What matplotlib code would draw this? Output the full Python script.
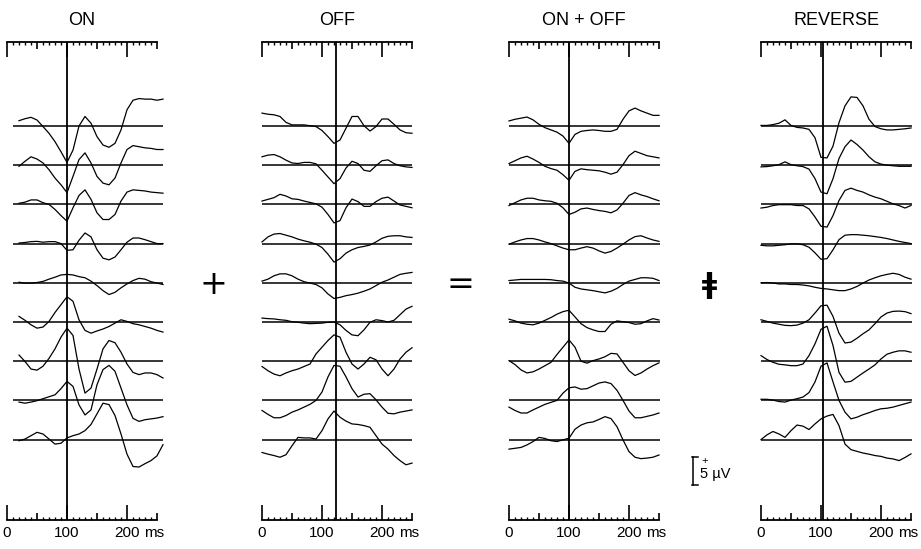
import numpy as np
import matplotlib
matplotlib.use("Agg")
import matplotlib.pyplot as plt

plt.rcParams['font.family'] = ['Liberation Sans', 'DejaVu Sans']

# ---------------- data ----------------
panel_titles = ["ON", "OFF", "ON + OFF", "REVERSE"]
stim_ms = [100, 123, 100, 104]          # time of the vertical stimulus line (ms)
tick_labels = ["0", "", "100", "", "200", ""]
major_ticks_ms = [0, 50, 100, 150, 200, 250]

t_on = [20, 30, 40, 50, 60, 70, 80, 90, 100, 110, 120, 130, 140, 150, 160,
        170, 180, 190, 200, 210, 220, 230, 240, 250, 260]
t_rest = [0, 10, 20, 30, 40, 50, 60, 70, 80, 90, 100, 110, 120, 130, 140, 150,
          160, 170, 180, 190, 200, 210, 220, 230, 240, 250]

# ON responses (µV), top to bottom
on1 = [0.95, 1.3, 1.55, 1.07, -0.1, -1.3, -2.8, -4.6, -6.5, -4.3, 0.0, 1.7, 0.5, -1.9, -3.4, -3.8, -3.1, -0.7, 2.9, 4.6, 4.9, 4.8, 4.8, 4.6, 4.8]
on2 = [-0.2, 0.7, 1.5, 1.1, 0.4, -0.8, -2.3, -3.5, -4.9, -2.0, 1.0, 2.2, 0.4, -2.0, -3.2, -3.5, -2.3, 0.4, 2.8, 3.5, 3.3, 3.1, 3.0, 2.8, 2.8]
on3 = [0.2, 0.4, 0.8, 0.8, 0.3, 0.0, -0.9, -2.0, -3.0, -0.6, 1.6, 2.6, 0.9, -1.5, -2.7, -2.7, -1.8, 0.6, 2.2, 2.6, 2.5, 2.4, 2.2, 2.1, 2.0]
on4 = [0.1, 0.2, 0.35, 0.4, 0.25, 0.35, 0.35, 0.0, -1.2, -1.1, 0.6, 1.9, 1.2, -1.1, -2.6, -2.9, -2.4, -1.1, 0.25, 1.0, 1.0, 0.7, 0.35, 0.0, 0.0]
on5 = [0.1, -0.05, -0.05, 0.05, 0.25, 0.65, 1.0, 1.4, 1.5, 1.4, 1.1, 0.9, 0.3, -0.5, -1.4, -2.1, -1.7, -0.9, -0.2, 0.4, 0.8, 0.65, 0.2, -0.05, -0.3]
on6 = [1.0, 0.3, -0.5, -1.1, -0.9, 0.1, 1.7, 3.1, 4.5, 3.7, 0.4, -1.5, -2.0, -1.6, -1.25, -0.8, -0.2, 0.4, 0.1, -0.3, -0.5, -0.8, -1.1, -1.5, -1.8]
on7 = [1.1, -0.05, -1.4, -1.6, -0.9, 0.5, 2.2, 4.3, 5.9, 4.6, -1.4, -5.7, -4.8, -1.4, 2.2, 3.7, 3.3, 1.6, -0.5, -2.0, -2.4, -2.1, -2.1, -2.4, -3.0]
on8 = [-0.3, -0.5, -0.3, -0.05, 0.3, 0.65, 1.0, 2.1, 3.4, 2.5, -0.8, -2.6, -1.7, 2.8, 5.5, 6.25, 5.2, 2.2, -0.8, -3.2, -3.75, -3.45, -3.3, -3.15, -2.9]
on9 = [-0.2, 0.1, 0.7, 1.3, 1.0, 0.1, -0.8, -0.65, 0.3, 0.7, 1.0, 1.6, 2.7, 4.6, 6.5, 6.25, 4.3, 1.0, -2.6, -4.8, -4.9, -4.3, -3.75, -2.9, -0.9]

# OFF responses
off1 = [2.3, 2.1, 2.0, 1.7, 0.65, 0.2, 0.2, 0.2, 0.05, -0.1, -0.8, -1.9, -3.1, -2.5, -0.4, 1.7, 1.7, 0.05, -0.9, -0.1, 1.25, 1.25, 0.3, -0.7, -1.2, -1.3]
off2 = [1.5, 1.8, 1.9, 1.5, 0.9, 0.4, 0.3, 0.5, 0.5, 0.25, -0.9, -2.1, -3.3, -2.4, -0.5, 0.7, 0.3, -0.9, -1.1, -0.1, 0.8, 0.95, 0.3, -0.1, -0.3, -0.4]
off3 = [0.6, 0.9, 1.2, 1.8, 1.5, 1.0, 0.9, 0.6, 0.35, 0.1, -0.5, -1.8, -3.3, -2.9, -0.6, 0.95, 0.5, -0.35, -0.35, 0.5, 1.1, 1.3, 0.6, -0.1, -0.35, -0.6]
off4 = [0.3, 1.2, 1.7, 1.8, 1.5, 1.2, 0.8, 0.5, 0.25, -0.1, -0.7, -1.9, -3.3, -2.7, -1.7, -1.1, -0.7, -0.5, -0.25, 0.3, 0.95, 1.3, 1.4, 1.4, 1.2, 1.1]
off5 = [0.3, 0.65, 1.25, 1.6, 1.6, 1.25, 0.65, 0.2, -0.05, -0.3, -0.9, -2.0, -2.8, -2.6, -2.3, -2.1, -1.85, -1.5, -1.1, -0.5, 0.1, 0.5, 1.0, 1.5, 1.7, 1.85]
off6 = [0.7, 0.6, 0.55, 0.4, 0.3, 0.05, -0.05, -0.2, -0.3, -0.25, -0.2, -0.05, 0.0, -0.5, -1.5, -2.3, -2.45, -1.4, -0.05, 0.4, 0.25, 0.0, 0.3, 1.3, 2.3, 2.8]
off7 = [-0.95, -1.7, -2.3, -2.6, -2.1, -1.7, -1.4, -0.95, -0.5, 1.3, 2.5, 3.7, 4.7, 4.3, 1.6, -0.5, -1.4, -0.5, 0.7, 0.25, -1.4, -2.6, -1.4, 0.4, 1.6, 2.4]
off8 = [-1.8, -2.5, -3.1, -3.1, -2.7, -2.1, -1.7, -1.2, -0.7, 0.0, 1.5, 4.2, 6.25, 6.1, 4.2, 2.1, 0.6, 1.1, 1.2, 0.1, -1.2, -2.3, -2.4, -2.1, -1.9, -1.7]
off9 = [-2.3, -2.6, -2.85, -3.15, -2.7, -1.1, 0.4, 0.3, 0.3, 0.1, 1.6, 3.7, 5.1, 4.0, 3.3, 2.8, 2.7, 2.5, 2.2, 0.7, -0.8, -1.7, -2.85, -3.75, -4.5, -4.2]

# ON+OFF sums
onoff1 = [0.9, 1.2, 1.4, 1.6, 1.1, 0.3, -0.3, -0.7, -1.1, -1.8, -3.1, -1.5, -0.95, -0.8, -0.7, -0.8, -0.95, -0.95, -0.6, 1.2, 2.7, 3.2, 2.7, 2.3, 1.9, 1.9]
onoff2 = [0.3, 0.8, 1.3, 1.6, 1.1, 0.5, -0.2, -0.6, -0.9, -1.7, -2.7, -1.1, -0.65, -0.8, -0.9, -1.0, -1.25, -1.6, -1.25, 0.1, 1.7, 2.5, 2.1, 1.7, 1.5, 1.3]
onoff3 = [-0.2, 0.3, 0.8, 1.1, 1.1, 0.8, 0.65, 0.55, 0.2, -0.6, -1.8, -1.4, -0.8, -0.65, -0.9, -1.1, -1.25, -1.5, -1.0, 0.2, 1.6, 2.1, 1.7, 1.4, 1.0, 0.65]
onoff4 = [-0.1, 0.3, 0.65, 0.9, 0.9, 0.65, 0.3, 0.0, -0.4, -0.8, -1.1, -1.1, -0.8, -0.55, -0.8, -1.3, -1.7, -1.4, -0.8, -0.1, 0.65, 1.25, 1.4, 1.0, 0.65, 0.4]
onoff5 = [0.4, 0.5, 0.6, 0.6, 0.6, 0.6, 0.6, 0.55, 0.4, 0.3, -0.05, -0.8, -1.1, -1.25, -1.4, -1.6, -1.8, -1.5, -1.0, -0.3, 0.3, 0.6, 0.9, 0.9, 0.8, 0.4]
onoff6 = [0.5, 0.2, -0.2, -0.4, -0.5, -0.2, 0.3, 0.8, 1.4, 1.85, 2.1, 0.9, -0.3, -1.0, -1.4, -1.7, -1.7, -0.4, 0.2, 0.05, -0.1, -0.4, -0.3, 0.2, 0.6, 0.35]
onoff7 = [0.1, -0.6, -1.55, -2.1, -1.9, -1.4, -0.8, -0.2, 1.2, 2.5, 3.8, 2.5, 0.0, -0.35, 0.1, 0.4, 0.8, 1.4, 1.3, -0.2, -1.7, -2.55, -2.1, -1.4, -0.8, -0.3]
onoff8 = [-1.2, -1.8, -2.25, -2.25, -1.7, -1.2, -0.7, -0.35, 0.0, 1.3, 2.25, 2.4, 2.0, 2.1, 2.6, 3.1, 3.3, 3.0, 1.8, 0.0, -1.9, -3.1, -3.1, -2.85, -2.6, -2.25]
onoff9 = [-1.7, -1.55, -1.4, -0.95, -0.35, 0.4, 0.2, -0.2, -0.35, -0.05, 0.25, 1.85, 2.6, 3.0, 3.15, 3.6, 4.1, 3.75, 2.3, -0.05, -2.15, -3.15, -3.4, -3.3, -3.15, -2.75]

# REVERSE responses
rev1 = [0.1, 0.1, 0.25, 0.5, 1.1, 0.1, -0.25, -0.35, -0.6, -2.1, -5.6, -5.7, -3.6, 0.6, 3.6, 5.2, 5.1, 3.6, 1.2, -0.1, -0.5, -0.7, -0.7, -0.6, -0.5, -0.35]
rev2 = [-0.3, -0.25, -0.1, 0.1, 0.6, 0.1, -0.1, -0.25, -0.7, -2.4, -4.8, -5.1, -2.4, 1.2, 3.3, 4.5, 3.7, 2.7, 1.5, 0.6, 0.2, 0.0, -0.1, -0.2, -0.2, -0.2]
rev3 = [-0.65, -0.5, -0.2, -0.05, -0.05, -0.05, -0.2, -0.2, -0.8, -2.25, -3.9, -4.05, -2.0, 0.7, 2.5, 2.9, 2.5, 2.2, 1.7, 1.3, 1.0, 0.55, 0.1, -0.2, -0.65, -0.2]
rev4 = [-0.3, -0.4, -0.4, -0.3, -0.2, -0.05, -0.05, -0.2, -0.65, -1.65, -2.8, -2.7, -1.1, 0.7, 1.5, 1.6, 1.6, 1.5, 1.4, 1.25, 1.1, 0.9, 0.65, 0.4, 0.2, 0.0]
rev5 = [0.0, 0.05, -0.05, -0.2, -0.2, -0.3, -0.3, -0.4, -0.55, -0.8, -1.0, -1.1, -1.25, -1.4, -1.4, -1.1, -0.65, -0.05, 0.5, 0.9, 1.25, 1.5, 1.7, 1.5, 1.0, 0.65]
rev6 = [0.4, 0.1, -0.2, -0.4, -0.6, -0.65, -0.55, -0.2, 0.4, 1.6, 2.9, 3.0, 1.0, -2.0, -3.75, -3.6, -2.9, -2.1, -1.4, -0.3, 0.9, 1.6, 1.9, 1.95, 1.85, 1.5]
rev7 = [1.0, 0.3, -0.2, -0.55, -0.65, -0.8, -0.8, -0.5, 1.0, 3.1, 5.7, 6.25, 2.8, -2.0, -3.75, -3.6, -2.85, -2.1, -1.4, -0.65, 0.4, 1.25, 1.6, 1.85, 1.85, 1.6]
rev8 = [0.2, 0.2, 0.05, -0.2, -0.3, 0.05, 0.3, 0.6, 1.4, 3.3, 6.1, 6.7, 3.3, 0.0, -2.1, -3.3, -3.0, -2.55, -2.2, -1.8, -1.5, -1.4, -1.2, -0.9, -0.6, -0.3]
rev9 = [0.0, 0.85, 1.45, 1.0, 0.4, 1.6, 2.6, 2.4, 1.8, 2.8, 3.7, 4.2, 4.5, 2.5, -0.8, -1.8, -2.1, -2.4, -2.6, -2.85, -3.0, -3.3, -3.45, -3.75, -3.2, -2.55]

panel_times = [t_on, t_rest, t_rest, t_rest]
panel_traces = [
    [on1, on2, on3, on4, on5, on6, on7, on8, on9],
    [off1, off2, off3, off4, off5, off6, off7, off8, off9],
    [onoff1, onoff2, onoff3, onoff4, onoff5, onoff6, onoff7, onoff8, onoff9],
    [rev1, rev2, rev3, rev4, rev5, rev6, rev7, rev8, rev9],
]
baseline_span_ms = [(10, 260), (0, 250), (0, 252), (0, 252)]
scale_bar_uv = 5

# ---------------- layout ----------------
W, H = 921, 549
SPACING = 7.0                   # µV between stacked traces
PX_PER_MS = 0.6
PX_PER_UV = 5.6
top_px, bot_px = 42, 520
left_px = [7, 262, 509, 761]
y_top = (126 - top_px) / PX_PER_UV
y_bot = y_top - (bot_px - top_px) / PX_PER_UV

fig = plt.figure(figsize=(W / 100, H / 100), dpi=100)

axes = []
for i, title in enumerate(panel_titles):
    ax = fig.add_axes([left_px[i] / W, 1 - bot_px / H,
                       250 * PX_PER_MS / W, (bot_px - top_px) / H])
    axes.append(ax)
    ax.set_xlim(0, 250)
    ax.set_ylim(y_bot, y_top)
    ax.patch.set_visible(False)
    for s in ("left", "right"):
        ax.spines[s].set_visible(False)
    for s in ("top", "bottom"):
        ax.spines[s].set_linewidth(1.3)
    ax.set_yticks([])
    ax.set_xticks(major_ticks_ms)
    ax.set_xticklabels(tick_labels)
    ax.set_xticks(np.arange(0, 251, 10), minor=True)
    ax.tick_params(which="both", direction="in", top=True, bottom=True,
                   labeltop=False, labelbottom=True)
    ax.tick_params(which="major", length=11, width=1.2, pad=4, labelsize=11)
    ax.tick_params(which="minor", length=2.5, width=1.0)
    for tk, val in zip(ax.xaxis.get_major_ticks(), major_ticks_ms):
        if val % 100:
            tk.tick1line.set_markersize(5)
            tk.tick2line.set_markersize(5)
    ax.annotate("ms", xy=(200, 0), xycoords=("data", "axes fraction"),
                xytext=(12.5, -4), textcoords="offset points",
                ha="left", va="top", fontsize=11)
    ax.set_title(title, fontsize=13, pad=12)

    # stimulus line
    ax.axvline(stim_ms[i], color="black", lw=1.3)

    t = np.array(panel_times[i])
    for k, tr in enumerate(panel_traces[i]):
        off = -SPACING * k
        ax.hlines(off, baseline_span_ms[i][0], baseline_span_ms[i][1],
                  color="black", lw=1.1, clip_on=False)
        ax.plot(t, np.array(tr) + off, color="black", lw=0.9,
                solid_joinstyle="round", clip_on=False)

# operators between panels
fig.text(213 / W, 1 - 284 / H, "+", ha="center", va="center",
         fontsize=24, family="DejaVu Sans")
fig.text(460 / W, 1 - 285 / H, "=", ha="center", va="center",
         fontsize=24, family="DejaVu Sans")
fig.text(709 / W, 1 - 285 / H, "\u01c2", ha="center", va="center",
         fontsize=20, family="DejaVu Sans", fontweight="bold")

# 5 µV scale bar (drawn in ON+OFF axes units)
ax = axes[2]
bar_t = (693 - left_px[2]) / PX_PER_MS
bar_top = y_top - (457 - top_px) / PX_PER_UV
bar_bot = bar_top - scale_bar_uv
cap = 5 / PX_PER_MS
ax.plot([bar_t, bar_t], [bar_bot, bar_top], color="black", lw=1.1, clip_on=False)
ax.plot([bar_t - 1, bar_t + cap], [bar_top, bar_top], color="black", lw=1.1, clip_on=False)
ax.plot([bar_t - 1, bar_t + cap], [bar_bot, bar_bot], color="black", lw=1.1, clip_on=False)
ax.text(bar_t + 12 / PX_PER_MS, bar_top - 0.7, "+", fontsize=8, ha="center", va="center")
ax.text(bar_t + 7 / PX_PER_MS, bar_top - 3.0, "5 \u00b5V", fontsize=10.5, ha="left", va="center")

fig.savefig("out.png", dpi=100)
